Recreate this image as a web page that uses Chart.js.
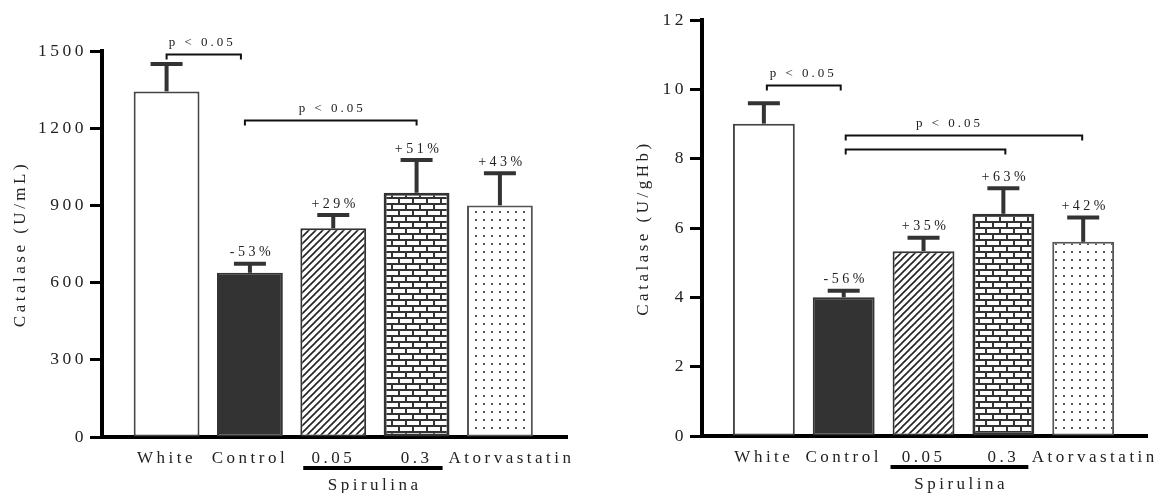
<!DOCTYPE html>
<html><head><meta charset="utf-8">
<script src="https://cdn.jsdelivr.net/npm/chart.js@4.4.0/dist/chart.umd.min.js"></script>
<style>
html,body{margin:0;padding:0;background:#fff;}
#wrap{position:relative;width:1163px;height:493px;overflow:hidden;}
canvas{position:absolute;top:0;}
#c1{left:0;}
#c2{left:580px;}
</style></head><body>
<div id="wrap"><canvas id="c1" width="580" height="493"></canvas><canvas id="c2" width="583" height="493"></canvas></div>
<script>
// ---- data ----
const categories = ['White', 'Control', '0.05', '0.3', 'Atorvastatin'];
const groupLabel = 'Spirulina';
const groupMembers = [2, 3];
const sigText = 'p < 0.05';

const leftTitle = 'Catalase (U/mL)';
const leftValues = [1343, 638, 811, 949, 900];
const leftErrTop = [1449, 673, 863, 1076, 1025];
const leftPct = ['', '-53%', '+29%', '+51%', '+43%'];
const leftTicks = [0, 300, 600, 900, 1200, 1500];
const leftBrackets = [
  { from: 0, to: 1, level: 1488, label: true },
  { from: 1, to: 3, level: 1232, label: true }
];

const rightTitle = 'Catalase (U/gHb)';
const rightValues = [9.01, 4.0, 5.33, 6.41, 5.60];
const rightErrTop = [9.60, 4.19, 5.72, 7.15, 6.30];
const rightPct = ['', '-56%', '+35%', '+63%', '+42%'];
const rightTicks = [0, 2, 4, 6, 8, 10, 12];
const rightBrackets = [
  { from: 0, to: 1, level: 10.12, label: true },
  { from: 1, to: 4, level: 8.68, label: true },
  { from: 1, to: 3, level: 8.28, label: false }
];

// ---- styling helpers ----
const FONT = '"Liberation Serif", "Times New Roman", serif';

function hatchPattern(ctx) {
  const c = document.createElement('canvas'); c.width = 7; c.height = 7;
  const g = c.getContext('2d');
  g.fillStyle = '#fff'; g.fillRect(0, 0, 7, 7);
  g.strokeStyle = '#222'; g.lineWidth = 1.6;
  for (const o of [-7, 0, 7]) { g.beginPath(); g.moveTo(o - 1, 8); g.lineTo(o + 8, -1); g.stroke(); }
  return ctx.createPattern(c, 'repeat');
}
function brickPattern(ctx) {
  const c = document.createElement('canvas'); c.width = 14; c.height = 12;
  const g = c.getContext('2d');
  g.fillStyle = '#333'; g.fillRect(0, 0, 14, 12);
  g.fillStyle = '#fff';
  g.fillRect(1, 1, 12, 4);
  g.fillRect(8, 7, 12, 4);
  g.fillRect(-6, 7, 12, 4);
  return ctx.createPattern(c, 'repeat');
}
function dotPattern(ctx) {
  const c = document.createElement('canvas'); c.width = 8; c.height = 8;
  const g = c.getContext('2d');
  g.fillStyle = '#fff'; g.fillRect(0, 0, 8, 8);
  g.fillStyle = '#555'; g.fillRect(3, 3, 2, 2);
  return ctx.createPattern(c, 'repeat');
}

const spacingPlugin = {
  id: 'spacing',
  beforeLayout(chart) { chart.ctx.letterSpacing = '3.5px'; },
  beforeDraw(chart) { chart.ctx.letterSpacing = '3.5px'; }
};

const annotPlugin = {
  id: 'annot',
  afterDatasetsDraw(chart, args, o) {
    const ctx = chart.ctx, xs = chart.scales.x, ys = chart.scales.y;
    ctx.save();
    // error bars
    ctx.strokeStyle = '#333'; ctx.lineWidth = 4; ctx.lineCap = 'butt';
    o.values.forEach((v, i) => {
      const x = xs.getPixelForValue(i);
      const yb = ys.getPixelForValue(v), ye = ys.getPixelForValue(o.err[i]);
      ctx.beginPath(); ctx.moveTo(x, yb); ctx.lineTo(x, ye); ctx.stroke();
      ctx.beginPath(); ctx.moveTo(x - 16, ye); ctx.lineTo(x + 16, ye); ctx.stroke();
    });
    // percent labels
    ctx.letterSpacing = '3.5px';
    ctx.font = '14px ' + FONT; ctx.fillStyle = '#222';
    ctx.textAlign = 'center'; ctx.textBaseline = 'middle';
    o.pct.forEach((t, i) => {
      if (!t) return;
      const x = xs.getPixelForValue(i) + 2;
      const ye = ys.getPixelForValue(o.err[i]);
      ctx.fillText(t, x, ye - 11);
    });
    // significance brackets
    ctx.strokeStyle = '#111'; ctx.lineWidth = 2;
    ctx.font = '13px ' + FONT; ctx.letterSpacing = '3px';
    o.brackets.forEach((b, k) => {
      const st = o.bracketStyle[k];
      const x1 = xs.getPixelForValue(b.from) + st.dx1;
      const x2 = xs.getPixelForValue(b.to) + st.dx2;
      const y = Math.round(ys.getPixelForValue(b.level)) + 0.5;
      ctx.beginPath();
      ctx.moveTo(x1, y + 5); ctx.lineTo(x1, y); ctx.lineTo(x2, y); ctx.lineTo(x2, y + 5);
      ctx.stroke();
      if (b.label) {
        ctx.fillText(sigText, (x1 + x2) / 2 + st.tdx + 1.5, y - 12);
      }
    });
    // group underline
    const area = chart.chartArea;
    const gx1 = xs.getPixelForValue(groupMembers[0]) + o.groupDx[0];
    const gx2 = xs.getPixelForValue(groupMembers[1]) + o.groupDx[1];
    ctx.fillStyle = '#000';
    ctx.fillRect(gx1, area.bottom + 29, gx2 - gx1, 4);
    ctx.fillStyle = '#222';
    ctx.font = '17px ' + FONT; ctx.letterSpacing = '3.5px';
    ctx.fillText(groupLabel, (gx1 + gx2) / 2 + 1.75, area.bottom + 49);
    ctx.restore();
  }
};

function buildChart(canvas, c) {
  const ctx = canvas.getContext('2d');
  const fills = ['#ffffff', '#333333', hatchPattern(ctx), brickPattern(ctx), dotPattern(ctx)];
  const borders = ['#444', '#333', '#333', '#333', '#555'];
  const bws = [2, 2, 2, 3, 2];
  return new Chart(ctx, {
    type: 'bar',
    data: {
      datasets: [{
        data: c.values.map((v, i) => ({ x: i, y: v })),
        backgroundColor: fills,
        borderColor: borders,
        borderWidth: bws,
        borderSkipped: false,
        categoryPercentage: 1,
        barPercentage: c.barPct
      }]
    },
    options: {
      responsive: false, animation: false, devicePixelRatio: 1,
      layout: { padding: { top: c.top, right: c.right, bottom: 0, left: 0 } },
      plugins: {
        legend: { display: false }, tooltip: { enabled: false },
        annot: {
          values: c.values, err: c.err, pct: c.pct, brackets: c.brackets,
          bracketStyle: c.bracketStyle, groupDx: c.groupDx
        }
      },
      scales: {
        x: {
          type: 'linear', min: -0.775, max: 4.805, offset: false, z: 1,
          grid: { display: false, offset: false },
          border: { display: true, color: '#000', width: 4 },
          afterBuildTicks: s => { s.ticks = categories.map((_, i) => ({ value: i })); },
          afterFit: s => { s.height = c.xHeight; },
          ticks: {
            autoSkip: false, maxRotation: 0, minRotation: 0, padding: 3,
            color: '#222', font: { family: FONT, size: 17 },
            // last label sits a little to the right in the original
            callback: v => (v === categories.length - 1 ? '   ' : '') + categories[v]
          }
        },
        y: {
          min: 0, max: c.ticks[c.ticks.length - 1], z: 1,
          afterBuildTicks: s => { s.ticks = c.ticks.map(v => ({ value: v })); },
          afterFit: s => { s.width = c.yWidth; },
          grid: { display: true, drawOnChartArea: false, drawTicks: true, tickLength: 12, tickWidth: 3, tickColor: '#000' },
          border: { display: true, color: '#000', width: 4 },
          ticks: {
            padding: 3, color: '#222', font: { family: FONT, size: 17.5 },
            callback: v => String(v)
          },
          title: {
            display: true, text: c.title, color: '#222',
            font: { family: FONT, size: 17 }, padding: { top: c.titlePad, bottom: 0 }
          }
        }
      }
    },
    plugins: [spacingPlugin, annotPlugin]
  });
}

buildChart(document.getElementById('c1'), {
  values: leftValues, err: leftErrTop, pct: leftPct, ticks: leftTicks, title: leftTitle,
  brackets: leftBrackets,
  bracketStyle: [{ dx1: 0, dx2: -9, tdx: -3 }, { dx1: -5, dx2: 0, tdx: 0 }],
  groupDx: [-30, 26],
  top: 51, right: 13, yWidth: 102, xHeight: 56, titlePad: 10, barPct: 0.79
});
buildChart(document.getElementById('c2'), {
  values: rightValues, err: rightErrTop, pct: rightPct, ticks: rightTicks, title: rightTitle,
  brackets: rightBrackets,
  bracketStyle: [{ dx1: 3, dx2: -3, tdx: -2 }, { dx1: 2, dx2: -1, tdx: -16 }, { dx1: 2, dx2: 2, tdx: 0 }],
  groupDx: [-33, 25],
  top: 20, right: 15, yWidth: 122, xHeight: 57, titlePad: 53, barPct: 0.775
});
</script>
</body></html>
